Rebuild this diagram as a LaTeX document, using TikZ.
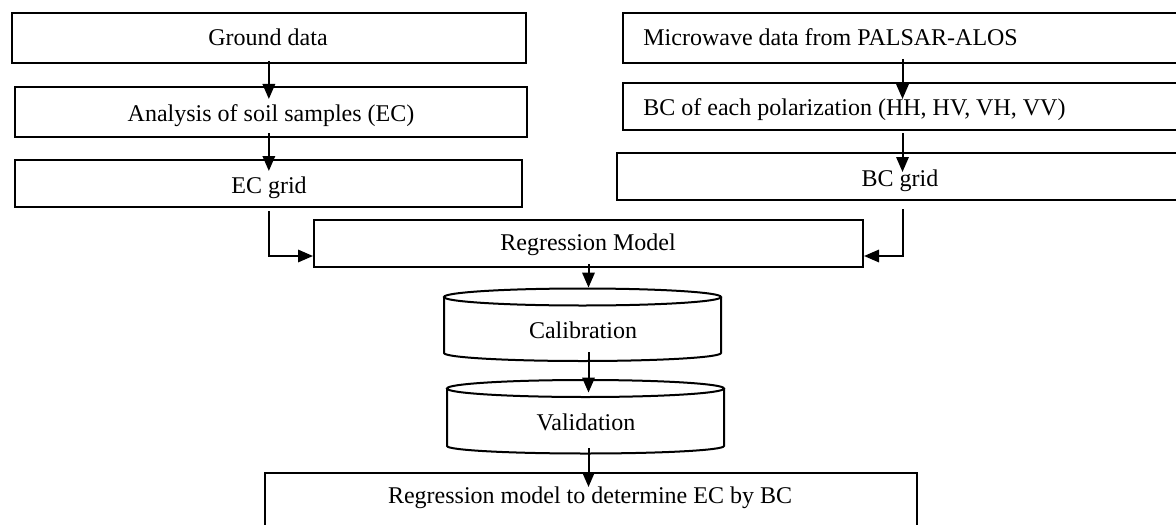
\documentclass[tikz,border=0pt]{standalone}
\usepackage{fontspec}
\setmainfont{Liberation Serif}
\usetikzlibrary{arrows.meta,fit,calc}
\begin{document}
\begin{tikzpicture}[x=0.5pt,y=-0.5pt,
  box/.style={draw=black, line width=1pt, inner sep=0pt},
  area/.style={inner sep=0pt},
  lbl/.style={anchor=base, inner sep=0pt, font=\fontsize{12}{14}\selectfont},
  lblw/.style={anchor=base west, inner sep=0pt, font=\fontsize{12}{14}\selectfont},
  flow/.style={line width=1pt, -{Triangle[length=7.5pt,width=6.2pt]}},
  drum/.style={line width=1pt}]
\clip (0,0) rectangle (1176,524);

% left column: field data
\node[box, fit={(11.7,13) (526,63)}] (ground) {};
\node[box, fit={(15,87) (527,137)}] (analysis) {};
\node[box, fit={(15,160) (522,207)}] (ecgrid) {};

% right column: radar data
\node[box, fit={(623,13) (1183,63)}] (micro) {};
\node[box, fit={(623,83) (1183,130)}] (bcpol) {};
\node[box, fit={(617,153) (1183,200)}] (bcgrid) {};

% centre column
\node[box, fit={(314,220) (863,267)}] (regr) {};
\node[area, fit={(444,288) (721,361)}] (calib) {};
\node[area, fit={(447,380) (724,454)}] (valid) {};
\node[box, fit={(265,473) (917,540)}] (final) {};

% drums for calibration and validation
\draw[drum] (444,297) -- (444,353)
  arc[start angle=180, end angle=360, x radius=69.25pt, y radius=4pt] -- (721,297);
\draw[drum] (582.5,297) ellipse[x radius=69.25pt, y radius=4.25pt];
\draw[drum] (447,388.5) -- (447,446)
  arc[start angle=180, end angle=360, x radius=69.25pt, y radius=3.75pt] -- (724,388.5);
\draw[drum] (585.5,388.5) ellipse[x radius=69.25pt, y radius=4.25pt];

% texts
\node[lbl] (ground-t) at (268,46) {Ground data};
\node[lbl] (analysis-t) at (271,121) {Analysis of soil samples (EC)};
\node[lbl] (ecgrid-t) at (269,193) {EC grid};
\node[lblw] (micro-t) at (643,46) {Microwave data from PALSAR-ALOS};
\node[lblw] (bcpol-t) at (643,115) {BC of each polarization (HH, HV, VH, VV)};
\node[lbl] (bcgrid-t) at (900,186) {BC grid};
\node[lbl] (regr-t) at (588,250) {Regression Model};
\node[lbl] (calib-t) at (583,338) {Calibration};
\node[lbl] (valid-t) at (586,430) {Validation};
\node[lbl] (final-t) at (590,503) {Regression model to determine EC by BC};

% connectors
\coordinate (rcol) at (902.5,0);
\coordinate (elbow) at (0,256);
\draw[flow] ($(ground.south)+(0,-3)$) -- ($(ground.south |- analysis.north)+(0,13)$);
\draw[flow] ($(analysis.south -| ground.south)+(0,-5)$) -- ($(ecgrid.north -| ground.south)+(0,12)$);
\draw[flow] ($(ecgrid.south)+(0,3)$) |- (regr.west |- elbow);
\draw[flow] ($(micro.south -| rcol)+(0,-5)$) -- ($(bcpol.north -| rcol)+(0,17)$);
\draw[flow] ($(bcpol.south -| rcol)+(0,2)$) -- ($(bcgrid.north -| rcol)+(0,20)$);
\draw[flow] ($(bcgrid.south -| rcol)+(0,8)$) |- (regr.east |- elbow);
\draw[flow] ($(regr.south)+(0,-4)$) -- (calib.north -| regr.south);
\draw[flow] ($(calib.south -| regr.south)+(0,-9)$) -- ($(valid.north -| regr.south)+(0,13)$);
\draw[flow] ($(valid.south -| regr.south)+(0,-6)$) -- ($(final.north -| regr.south)+(0,15)$);
\end{tikzpicture}
\end{document}
